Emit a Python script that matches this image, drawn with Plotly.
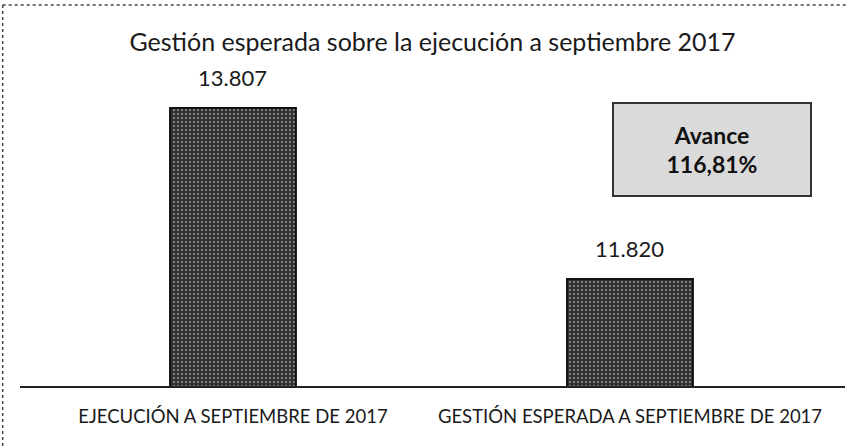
import plotly.graph_objects as go

categories = ["EJECUCIÓN A SEPTIEMBRE DE 2017", "GESTIÓN ESPERADA A SEPTIEMBRE DE 2017"]
values = [13807, 11820]
value_labels = ["13.807", "11.820"]
title_text = "Gestión esperada sobre la ejecución a septiembre 2017"
box_text = "<b>Avance<br>116,81%</b>"

FONT = "Lato, 'Open Sans', sans-serif"

fig = go.Figure()
fig.add_trace(go.Bar(
    x=[0, 1], y=values,
    marker=dict(
        color="#333333",
        line=dict(color="#111111", width=2),
        pattern=dict(shape=".", fgcolor="#c8c8c8", bgcolor="#2e2e2e", size=4, solidity=0.3),
    ),
    hoverinfo="skip",
))

for i, (v, lab) in enumerate(zip(values, value_labels)):
    fig.add_annotation(x=i, y=v, text=lab, showarrow=False, yanchor="bottom", yshift=15,
                       font=dict(family=FONT, size=22, color="#1a1a1a"))

fig.add_annotation(xref="paper", yref="paper", x=0.839, y=0.724, text=box_text,
                   xanchor="center", yanchor="middle",
                   showarrow=False, align="center",
                   font=dict(family=FONT, size=23, color="#111111"),
                   bgcolor="#dadada", bordercolor="#333333", borderwidth=2,
                   width=194, height=89, valign="middle")

# frame lines (scan border)
fig.add_shape(type="line", xref="paper", yref="paper", x0=-0.021, x1=1.003, y0=1.169, y1=1.169,
              line=dict(color="#444444", width=1.5, dash="dot"))
fig.add_shape(type="line", xref="paper", yref="paper", x0=-0.021, x1=-0.021, y0=1.169, y1=-0.2,
              line=dict(color="#444444", width=1.5, dash="dot"))

fig.update_layout(
    width=847, height=446,
    margin=dict(l=20, r=2, t=60, b=60, autoexpand=False),
    paper_bgcolor="white", plot_bgcolor="white",
    bargap=0.683,
    showlegend=False,
    title=dict(text=title_text, x=0.5, xanchor="center", xref="paper",
               y=1 - 42 / 446, yref="container", yanchor="middle",
               font=dict(family=FONT, size=25, color="#1a1a1a")),
    xaxis=dict(tickmode="array", tickvals=[0, 1], ticktext=categories,
               range=[-0.5365, 1.5416], showgrid=False, zeroline=False,
               showline=True, linecolor="#222222", linewidth=2, ticks="",
               automargin=False, ticklabelstandoff=13,
               tickfont=dict(family=FONT, size=18.5, color="#1a1a1a")),
    yaxis=dict(range=[10577, 14365], visible=False, showgrid=False, zeroline=False,
               automargin=False),
)

fig.write_html("out.html", config={"displayModeBar": False},
               post_script="document.body.style.margin='0';document.body.style.overflow='hidden';")
